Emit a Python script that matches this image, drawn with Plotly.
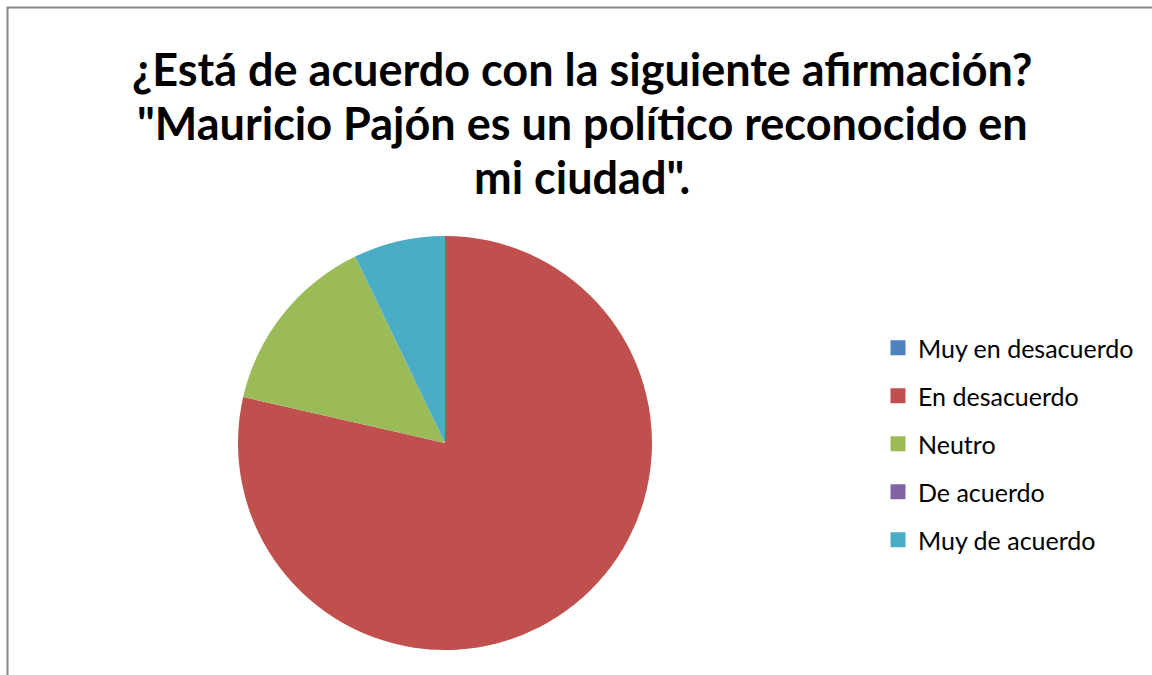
import plotly.graph_objects as go

# Survey answers and counts
categories = ["Muy en desacuerdo", "En desacuerdo", "Neutro", "De acuerdo", "Muy de acuerdo"]
counts = [0, 11, 2, 0, 1]
colors = ["#4F81BD", "#C0504D", "#9BBB59", "#8064A2", "#4BACC6"]

title_lines = [
    "¿Está de acuerdo con la siguiente afirmación?",
    "\"Mauricio Pajón es un político reconocido en",
    "mi ciudad\".",
]

W, H = 1152, 675
cx, cy, r = 445, 443, 207

fig = go.Figure(go.Pie(
    labels=categories,
    values=counts,
    sort=False,
    direction="clockwise",
    rotation=0,
    textinfo="none",
    hoverinfo="label+value+percent",
    showlegend=False,
    marker=dict(colors=colors, line=dict(width=0)),
    domain=dict(x=[(cx - r) / W, (cx + r) / W], y=[(H - cy - r) / H, (H - cy + r) / H]),
))

# Legend entries: one per category, spaced evenly
for name, col in zip(categories, colors):
    fig.add_trace(go.Scatter(
        x=[None], y=[None], mode="markers", name=name, legendgroup=name,
        marker=dict(symbol="square", size=15, color=col),
        hoverinfo="skip",
    ))

annotations = []
for i, line in enumerate(title_lines):
    annotations.append(dict(
        text=line, x=582 / W, y=1 - (69 + 54 * i) / H,
        xref="paper", yref="paper", xanchor="center", yanchor="middle",
        showarrow=False, font=dict(family="Lato", size=45, color="#000000", weight="bold"),
    ))

fig.update_layout(
    width=W, height=H,
    margin=dict(l=0, r=0, t=0, b=0),
    paper_bgcolor="white",
    plot_bgcolor="white",
    showlegend=True,
    xaxis=dict(visible=False),
    yaxis=dict(visible=False),
    legend=dict(
        x=878 / W, y=1 - 325 / H, xanchor="left", yanchor="top",
        font=dict(family="Lato", size=25, color="#000000"),
        tracegroupgap=12.5, itemwidth=30,
    ),
    annotations=annotations,
    shapes=[dict(
        type="rect", xref="paper", yref="paper",
        x0=7.5 / W, x1=1.01, y0=-0.01, y1=1 - 7.5 / H,
        line=dict(color="#888888", width=2), fillcolor="rgba(0,0,0,0)",
    )],
)

fig.write_html("out.html")
